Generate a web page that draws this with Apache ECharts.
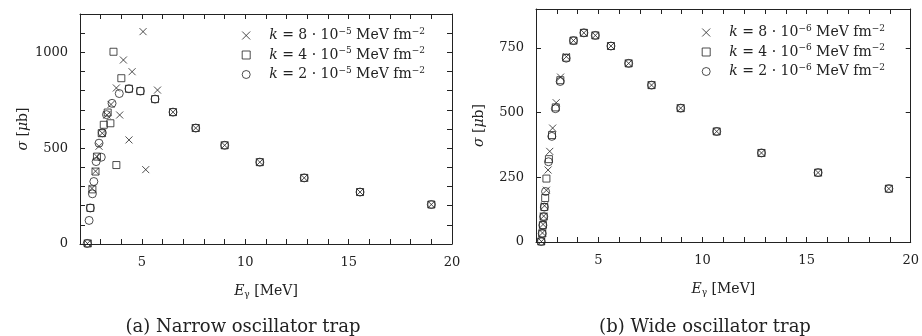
<!DOCTYPE html>
<html>
<head>
<meta charset="utf-8">
<script src="https://cdn.jsdelivr.net/npm/echarts@6/dist/echarts.min.js"></script>
<style>
  html, body { margin: 0; padding: 0; background: #fff; }
  #chart { width: 922px; height: 336px; }
</style>
</head>
<body>
<div id="chart"></div>
<script>
// narrow trap (a): [E_gamma MeV, sigma microbarn]
const narrowK8 = [[2.36, 3], [2.58, 290], [2.75, 380], [2.82, 456], [2.92, 510], [3.08, 578], [3.3, 673], [3.5, 728],
  [3.76, 814], [3.92, 673], [4.1, 960], [4.37, 543], [4.52, 899], [5.05, 1108], [5.18, 388], [5.75, 803],
  [6.5, 688], [7.6, 605], [9.0, 515], [10.7, 427], [12.85, 345], [15.55, 271], [19.0, 206]];
const narrowK4 = [[2.38, 3], [2.5, 188], [2.6, 285], [2.75, 378], [2.82, 456], [3.05, 578], [3.15, 622], [3.34, 686],
  [3.47, 630], [3.62, 1003], [3.76, 412], [4.0, 865], [4.37, 810], [4.92, 798], [5.63, 756],
  [6.5, 688], [7.6, 605], [9.0, 515], [10.7, 427], [12.85, 345], [15.55, 271], [19.0, 206]];
const narrowK2 = [[2.35, 3], [2.44, 123], [2.5, 188], [2.6, 262], [2.67, 326], [2.78, 430], [2.92, 526], [3.03, 453],
  [3.08, 580], [3.28, 675], [3.55, 734], [3.9, 785], [4.37, 810], [4.92, 798], [5.63, 756],
  [6.5, 688], [7.6, 605], [9.0, 515], [10.7, 427], [12.85, 345], [15.55, 271], [19.0, 206]];

// wide trap (b)
const wideK8 = [[2.26, 2], [2.31, 35], [2.34, 68], [2.37, 100], [2.41, 140], [2.5, 200], [2.58, 278], [2.66, 350],
  [2.8, 440], [2.97, 538], [3.18, 637], [3.46, 716], [3.8, 778], [4.3, 808], [4.85, 798], [5.6, 757],
  [6.45, 690], [7.55, 606], [8.95, 517], [10.68, 427], [12.83, 344], [15.55, 268], [18.95, 206]];
const wideK4 = [[2.25, 2], [2.3, 33], [2.33, 65], [2.37, 98], [2.4, 135], [2.44, 170], [2.5, 245], [2.62, 320],
  [2.77, 413], [2.95, 520], [3.17, 625], [3.45, 712], [3.8, 778], [4.3, 808], [4.85, 798], [5.6, 757],
  [6.45, 690], [7.55, 606], [8.95, 517], [10.68, 427], [12.83, 344], [15.55, 268], [18.95, 206]];
const wideK2 = [[2.25, 2], [2.3, 33], [2.33, 65], [2.37, 98], [2.4, 135], [2.46, 195], [2.6, 310], [2.76, 408],
  [2.93, 515], [3.16, 620], [3.45, 710], [3.8, 778], [4.3, 808], [4.85, 798], [5.6, 757],
  [6.45, 690], [7.55, 606], [8.95, 517], [10.68, 427], [12.83, 344], [15.55, 268], [18.95, 206]];

const narrowNames = ['k8n', 'k4n', 'k2n'];
const wideNames = ['k8w', 'k4w', 'k2w'];
const legendText = {
  k8n: '{i|k} = 8 · 10{sup|−5} MeV fm{sup|−2}',
  k4n: '{i|k} = 4 · 10{sup|−5} MeV fm{sup|−2}',
  k2n: '{i|k} = 2 · 10{sup|−5} MeV fm{sup|−2}',
  k8w: '{i|k} = 8 · 10{sup|−6} MeV fm{sup|−2}',
  k4w: '{i|k} = 4 · 10{sup|−6} MeV fm{sup|−2}',
  k2w: '{i|k} = 2 · 10{sup|−6} MeV fm{sup|−2}'
};

const ink = '#222';
const font = 'DejaVu Serif';
const crossPath = 'path://M0,0L10,10M10,0L0,10';
const symbols = [crossPath, 'rect', 'circle'];
const sizes = [7, 7, 8];

const rich = {
  i: { fontStyle: 'italic', fontFamily: font, fontSize: 14, color: ink },
  sup: { fontFamily: font, fontSize: 9, color: ink, verticalAlign: 'top', padding: [0, 0, 8, 0] },
  sub: { fontFamily: font, fontSize: 9, color: ink, padding: [6, 0, 0, 0] }
};

function makeSeries(names, datas, axisIndex) {
  return datas.map((d, i) => ({
    type: 'scatter',
    name: names[i],
    xAxisIndex: axisIndex,
    yAxisIndex: axisIndex,
    symbol: symbols[i],
    symbolSize: sizes[i],
    data: d,
    itemStyle: { color: 'rgba(0,0,0,0)', borderColor: ink, borderWidth: 1 },
    emphasis: { disabled: true }
  }));
}

// ticks point into the plot, on all four sides
function tickStyle() {
  return { show: true, inside: true, length: 5, lineStyle: { color: ink, width: 1 } };
}

function xAxes(gridIndex) {
  const base = {
    gridIndex: gridIndex, type: 'value', min: 2, max: 20, interval: 1,
    axisLine: { show: true, onZero: false, lineStyle: { color: ink, width: 1 } },
    axisTick: tickStyle(),
    splitLine: { show: false }
  };
  return [
    Object.assign({}, base, {
      position: 'bottom',
      axisLabel: {
        color: ink, fontFamily: font, fontSize: 13, margin: 12,
        formatter: v => (v % 5 === 0 ? String(v) : '')
      },
      name: '{i|E}{sub|γ} [MeV]',
      nameLocation: 'middle', nameGap: 40,
      nameTextStyle: { color: ink, fontFamily: font, fontSize: 14, rich: rich }
    }),
    Object.assign({}, base, { position: 'top', axisLabel: { show: false } })
  ];
}

function yAxes(gridIndex, max, interval, labelStep) {
  const base = {
    gridIndex: gridIndex, type: 'value', min: 0, max: max, interval: interval,
    axisLine: { show: true, onZero: false, lineStyle: { color: ink, width: 1 } },
    axisTick: tickStyle(),
    splitLine: { show: false }
  };
  return [
    Object.assign({}, base, {
      position: 'left',
      axisLabel: {
        color: ink, fontFamily: font, fontSize: 13, margin: 12,
        formatter: v => (v % labelStep === 0 ? String(v) : '')
      },
      name: '{i|σ} [{i|μ}b]',
      nameLocation: 'middle', nameGap: 50, nameRotate: 90,
      nameTextStyle: { color: ink, fontFamily: font, fontSize: 14, rich: rich }
    }),
    Object.assign({}, base, { position: 'right', axisLabel: { show: false } })
  ];
}

function legend(names, right, top) {
  return {
    data: names,
    orient: 'vertical',
    right: right, top: top,
    itemWidth: 8, itemHeight: 8, itemGap: 4,
    selectedMode: false,
    itemStyle: { color: 'rgba(0,0,0,0)', borderColor: ink, borderWidth: 1 },
    formatter: name => legendText[name],
    textStyle: { color: ink, fontFamily: font, fontSize: 14, padding: [0, 0, 0, 14], rich: rich }
  };
}

const chart = echarts.init(document.getElementById('chart'));
const xa = xAxes(0).concat(xAxes(1));
const ya = yAxes(0, 1200, 100, 500).concat(yAxes(1, 900, 250, 250));
// series use axis index 0 (bottom/left) of each grid: 0 for grid a, 2 for grid b
const series = makeSeries(narrowNames, [narrowK8, narrowK4, narrowK2], 0)
  .concat(makeSeries(wideNames, [wideK8, wideK4, wideK2], 2));

chart.setOption({
  animation: false,
  backgroundColor: '#fff',
  grid: [
    { left: 80, top: 14, right: 470, bottom: 92 },
    { left: 536, top: 9, right: 8, bottom: 94 }
  ],
  xAxis: xa,
  yAxis: ya,
  legend: [legend(narrowNames, 492, 22), legend(wideNames, 32, 19)],
  title: [
    { text: '(a) Narrow oscillator trap', left: 238, top: 313, textAlign: 'center',
      textStyle: { color: ink, fontFamily: font, fontSize: 18, fontWeight: 'normal' } },
    { text: '(b) Wide oscillator trap', left: 700, top: 313, textAlign: 'center',
      textStyle: { color: ink, fontFamily: font, fontSize: 18, fontWeight: 'normal' } }
  ],
  series: series
});
</script>
</body>
</html>
